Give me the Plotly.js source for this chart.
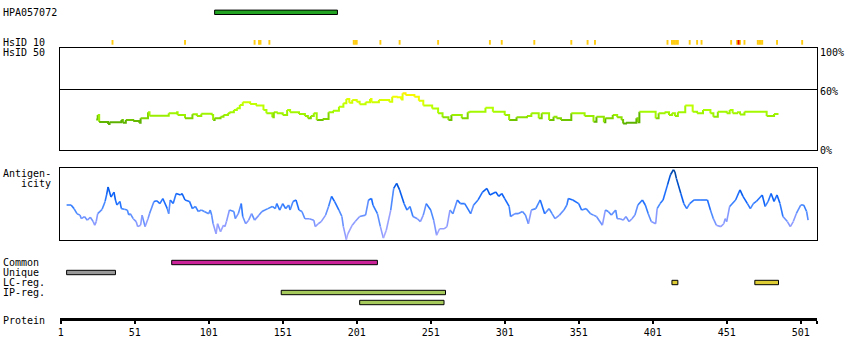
<!DOCTYPE html>
<html>
<head>
<meta charset="utf-8">
<script src="https://cdn.plot.ly/plotly-3.0.1.min.js"></script>
<style>html,body{margin:0;padding:0;background:#fff;}#chart{width:850px;height:360px;}</style>
</head>
<body>
<div id="chart"></div>
<script>
// ---------------- DATA ----------------
const proteinLength = 512;
const proteinTicks = [1, 51, 101, 151, 201, 251, 301, 351, 401, 451, 501];

const antibodyName = "HPA057072";
const antibodyStart = [105];
const antibodyEnd = [188];

const hsid10Yellow = [36,85,132,135,136,142,199,200,201,217,230,256,291,299,321,346,357,362,411,414,415,416,417,418,426,431,434,454,458,460,463,472,473,474,475,485,502];
const hsid10Red = [459];

// sequence similarity (%) along the protein
const simRes = [25,26,27,33,34,42,43,45,50,54,55,60,61,74,79,80,85,90,93,96,103,104,105,109,111,114,115,118,120,122,124,129,133,138,140,144,145,147,151,154,156,162,166,168,170,172,174,178,182,185,189,192,194,196,198,201,203,207,210,211,216,223,225,228,231,232,234,240,243,246,252,256,259,263,265,272,276,277,288,293,301,304,309,316,319,324,326,331,334,336,339,346,355,361,363,368,369,374,377,380,381,383,390,391,392,403,405,409,412,414,416,418,423,428,431,435,440,442,445,451,453,455,458,460,463,478,483,486];
const simVal = [30.3,34.6,27.7,25.8,27.4,29.7,27.1,29.7,28.7,27.1,31.3,37.2,33.9,36.3,37.2,34.6,31.3,35.3,33.6,35.9,34.6,29.7,31.3,32.9,34.6,36.3,37.2,39.5,41.2,44.4,47.1,45.4,43.8,39.5,36.3,32.3,37.2,36.3,34.6,39.5,37.2,35.6,33.6,31.3,33.6,36.3,29.7,30.7,37.2,38.8,42.8,46.1,50.3,46.7,49.3,47.6,45.1,47.1,50.3,47.1,49.3,47.6,52.6,51.9,49.9,55.9,54.2,52.6,48.6,43.8,41.1,36.3,32.3,29.7,34.6,31.3,37.2,37.9,41.8,37.9,34.6,29.7,32.3,33.6,36.3,31.3,36.3,29.7,32.9,31.3,29.7,36.3,33.6,27.9,32.9,27.4,31.3,34.6,32.3,29.7,26.2,27.1,31.3,27.4,37.9,31.3,36.3,37.2,34.6,36.3,33.6,37.2,43.8,37.9,36.3,39.5,36.3,32.9,37.9,36.3,39.5,36.3,37.2,35.0,37.9,33.6,35.6,35.6];

// antigenicity (relative score 0-100)
const antRes = [5,8,10,12,14,15,17,19,21,23, 24,25,26,29,31,32,33,34,35,37, 38,39,41,42,44,46,47,48,50,52, 53,55,56,58,60,61,64,66,68,70, 73,74,75,77,79,82,83,85,88,90, 92,94,96,98,101,102,103,104,106,107, 109,111,112,113,115,118,119,121,123,124, 126,128,130,132,135,137,139,141,144,146, 147,149,151,153,155,156,158,160,162,164, 166,169,172,173,175,177,180,182,184,186, 189,191,192,194,195,198,200,203,207,209, 211,212,215,217,219,221,224,226,228,230, 233,235,237,239,242,244,246,248,251,253, 255,257,260,262,264,266,269,271,274,278, 280,283,286,289,291,295,297,299,301,304, 305,308,310,313,315,317,319,322,325,328, 331,333,335,338,341,343,344,347,351,353, 356,359,361,363,367,369,371,373,376,377, 379,381,383,385,387,389,391,394,396,398, 400,403,404,406,408,411,413,415,416,417, 420,422,424,426,429,433,438,440,442,444, 447,449,450,451,453,457,460,462,465,467, 469,471,475,477,479,481,483,485,487,489, 492,494,496,498,501,503,505,506];
const antVal = [49,49,44,37,35,30,33,28,32,26, 21,26,37,43,54,63,74,67,60,67, 56,49,54,44,43,42,35,37,30,26, 19,21,35,19,30,37,54,55,51,58, 44,37,56,51,65,63,65,56,54,44, 47,40,42,40,37,42,35,23,9,23, 12,21,19,26,42,40,30,37,51,33, 23,28,37,28,35,40,42,44,47,44, 51,42,51,44,49,42,54,56,42,40, 30,30,28,19,23,26,35,47,61,54, 42,33,19,1,9,21,26,33,35,56, 58,49,37,19,3,14,42,72,79,70, 51,42,47,33,30,26,35,51,42,28, 7,16,16,19,42,37,56,51,51,37, 49,56,67,72,63,67,61,65,58,47, 33,37,37,40,35,23,42,44,56,37, 44,37,30,35,42,49,58,56,51,42, 44,37,35,33,21,42,40,35,42,30, 30,28,33,26,30,35,49,56,49,37, 26,23,44,51,56,77,91,98,95,86, 65,51,44,51,56,56,56,42,30,21, 19,23,30,26,47,56,70,61,51,44, 51,54,63,47,54,65,54,63,51,33, 26,19,26,37,49,49,40,28];

const commonStart = [76];   const commonEnd = [215];
const uniqueStart = [5];    const uniqueEnd = [38];
const lcStart = [414, 470]; const lcEnd = [418, 486];
const ipStart = [150];      const ipEnd = [261];
const ip2Start = [203];     const ip2End = [260];

// ---------------- LAYOUT HELPERS ----------------
const W = 850, H = 360, ML = 60, MR = 33;
const PW = W - ML - MR;
const FONT = {family: "DejaVu Sans Mono, monospace", size: 10, color: "#000"};
const py = p => 1 - p / H;          // pixel row -> paper fraction
const px = p => (p - ML) / PW;      // pixel column -> paper fraction

function lerpColor(stops, v) {
  if (v <= stops[0][0]) return stops[0][1];
  for (let i = 1; i < stops.length; i++) {
    if (v <= stops[i][0]) {
      const [a, ca] = stops[i - 1], [b, cb] = stops[i];
      const t = (v - a) / (b - a);
      return ca.map((c, k) => Math.round(c + (cb[k] - c) * t));
    }
  }
  return stops[stops.length - 1][1];
}
const rgb = c => `rgb(${c[0]},${c[1]},${c[2]})`;

function coloredLine(xs, ys, stops, step, xa, ya, width, shape) {
  const groups = new Map();
  for (let i = 0; i < xs.length - 1; i++) {
    const q = Math.round(ys[i] / step) * step;
    const col = rgb(lerpColor(stops, q));
    if (!groups.has(col)) groups.set(col, {x: [], y: []});
    const g = groups.get(col);
    g.x.push(xs[i], xs[i + 1], null);
    g.y.push(ys[i], ys[i + 1], null);
  }
  return [...groups.entries()].map(([col, g]) => ({
    type: "scatter", mode: "lines", x: g.x, y: g.y, xaxis: xa, yaxis: ya,
    line: {color: col, width: width, shape: shape}, connectgaps: false,
    hoverinfo: "skip", showlegend: false
  }));
}

const simStops = [[25,[0x55,0xaa,0x00]],[29.5,[0x66,0xbb,0x00]],[31.5,[0x88,0xdd,0x00]],[34,[0x99,0xee,0x00]],[40,[0xaa,0xff,0x00]],[47,[0xcc,0xff,0x00]],[52,[0xee,0xff,0x00]],[56,[0xff,0xee,0x00]]];
const antStops = [[0,[0xaa,0xaa,0xff]],[25,[0x88,0x99,0xff]],[45,[0x44,0x88,0xff]],[60,[0x11,0x66,0xff]],[80,[0x00,0x55,0xdd]],[100,[0x00,0x44,0x99]]];

// track rows (pixel centres on the full-height track axis)
const ROW = {ab: 12.3, common: 262.5, unique: 272.5, lc: 282.5, ip: 292.5, ip2: 302.5};
const BARH = 4.4;

function hbar(starts, ends, row, color) {
  return {
    type: "bar", orientation: "h", base: starts,
    x: starts.map((s, i) => ends[i] - s), y: starts.map(() => row),
    width: BARH, xaxis: "x", yaxis: "y",
    marker: {color: color, line: {color: "#000", width: 1}},
    hoverinfo: "skip", showlegend: false
  };
}
function vmarks(pos, color) {
  return {
    type: "bar", orientation: "v", x: pos, y: pos.map(() => 4.7), base: pos.map(() => 40),
    width: 1.3, xaxis: "x", yaxis: "y",
    marker: {color: color, line: {width: 0}}, hoverinfo: "skip", showlegend: false
  };
}

const traces = [
  hbar(antibodyStart, antibodyEnd, ROW.ab, "#22a322"),
  vmarks(hsid10Yellow, "#ffcc11"),
  vmarks(hsid10Red, "#ee0000"),
  hbar(commonStart, commonEnd, ROW.common, "#cc2299"),
  hbar(uniqueStart, uniqueEnd, ROW.unique, "#999999"),
  hbar(lcStart, lcEnd, ROW.lc, "#ddcc33"),
  hbar(ipStart, ipEnd, ROW.ip, "#a6c95c"),
  hbar(ip2Start, ip2End, ROW.ip2, "#a6c95c"),
  ...coloredLine(simRes, simVal, simStops, 1, "x2", "y2", 2, "hv"),
  ...coloredLine(antRes, antVal, antStops, 2, "x3", "y3", 1.6, "linear")
];

const xStart = 1 + (ML - 60.7) / 1.48;
const xRange = [xStart, xStart + PW / 1.48];
const panelX = (anchor) => ({
  matches: "x", anchor: anchor, showline: true, mirror: true, linecolor: "#000", linewidth: 1,
  showticklabels: false, ticks: "", showgrid: false, zeroline: false
});

const annotations = [];
function label(text, x, y, anchor) {
  annotations.push({xref: "paper", yref: "paper", x: px(x), y: py(y), text: text,
    xanchor: anchor || "left", yanchor: "middle", showarrow: false, font: FONT, borderpad: 0});
}
label(antibodyName, 1.5, 12.7);
label("HsID 10", 1.5, 42.3);
label("HsID 50", 1.5, 52.3);
label("100%", 818.5, 52.3);
label("60%", 818.5, 91);
label("0%", 818.5, 150);
label("Antigen-", 1.5, 173);
label("icity", 19.5, 183);
label("Common", 1.5, 262.5);
label("Unique", 1.5, 272.5);
label("LC-reg.", 1.5, 282.5);
label("IP-reg.", 1.5, 292.5);
label("Protein", 1.5, 320.5);

const layout = {
  width: W, height: H,
  margin: {l: ML, r: MR, t: 0, b: 0, pad: 0},
  paper_bgcolor: "#fff", plot_bgcolor: "rgba(0,0,0,0)",
  barmode: "overlay", showlegend: false, font: FONT,
  xaxis: {
    range: xRange, anchor: "free", position: py(319.3),
    showline: true, linecolor: "#000", linewidth: 3,
    tickmode: "array", tickvals: proteinTicks.concat([proteinLength]),
    ticktext: proteinTicks.map(String).concat([""]),
    ticks: "outside", ticklen: 3, tickwidth: 2, tickcolor: "#000",
    tickfont: FONT, showgrid: false, zeroline: false
  },
  yaxis: {domain: [0, 1], range: [H, 0], visible: false, fixedrange: true},
  xaxis2: panelX("y2"),
  yaxis2: {domain: [py(150.3), py(48.3)], range: [0, 100], anchor: "x2",
    showline: true, mirror: true, linecolor: "#000", linewidth: 1,
    tickmode: "array", tickvals: [60], showticklabels: false, ticks: "",
    showgrid: true, gridcolor: "#000", gridwidth: 1, zeroline: false},
  xaxis3: panelX("y3"),
  yaxis3: {domain: [py(240.3), py(168.3)], range: [0, 100], anchor: "x3",
    showline: true, mirror: true, linecolor: "#000", linewidth: 1,
    showticklabels: false, ticks: "", showgrid: false, zeroline: false},
  annotations: annotations
};

Plotly.newPlot("chart", traces, layout, {displayModeBar: false, staticPlot: true});
</script>
</body>
</html>
